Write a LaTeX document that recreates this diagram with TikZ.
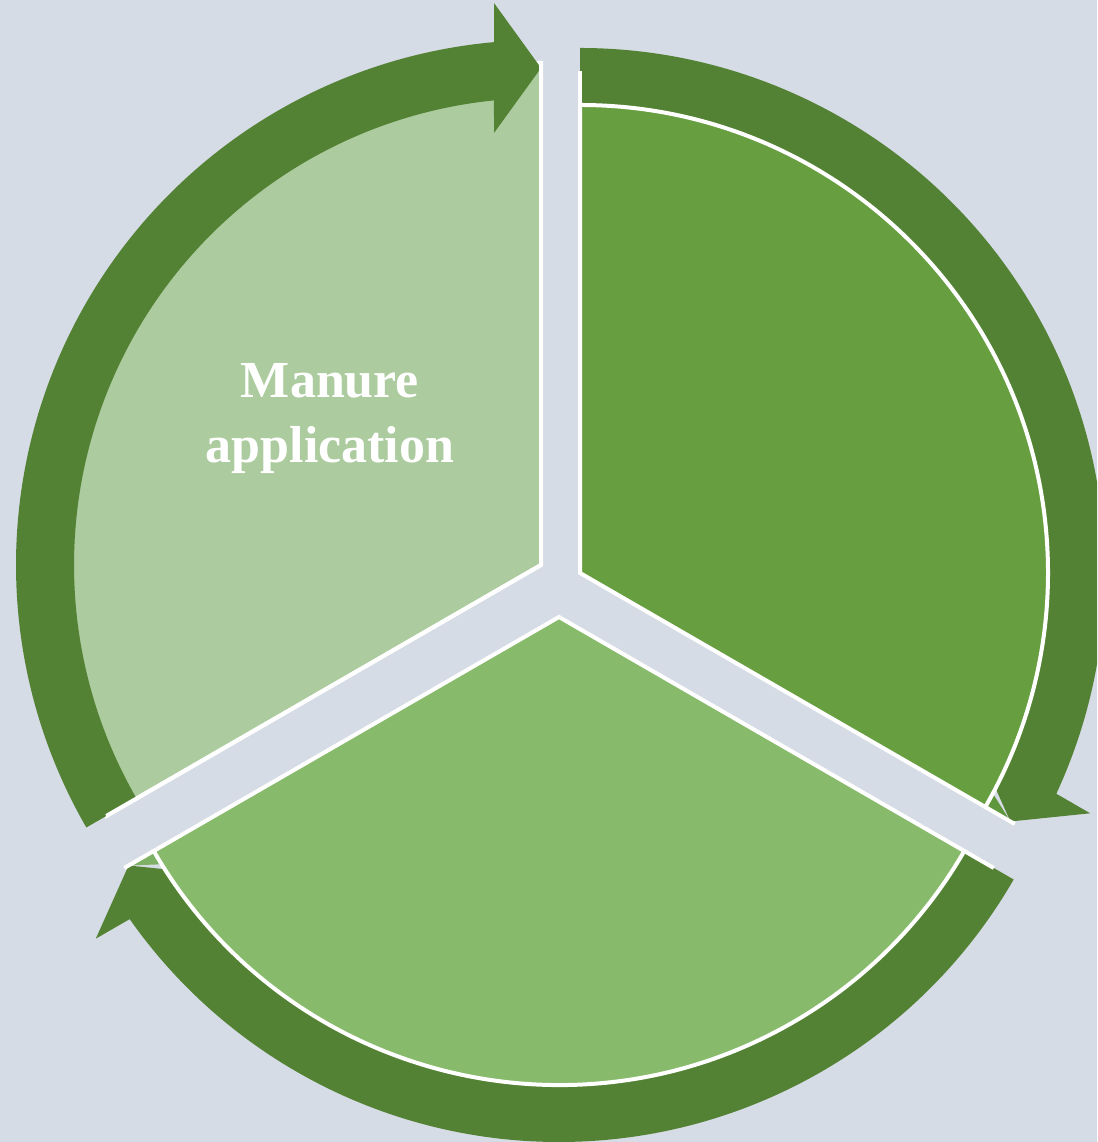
\documentclass[tikz,border=0pt]{standalone}
\usepackage{fontspec}
\setmainfont{Liberation Serif}
\definecolor{bgcol}{HTML}{D6DCE5}
\definecolor{segA}{HTML}{ACCB9E}
\definecolor{segB}{HTML}{679E40}
\definecolor{segC}{HTML}{88BA6C}
\definecolor{arrowgreen}{HTML}{548235}
\definecolor{blendB}{HTML}{5F983C}
\definecolor{blendC}{HTML}{7DB062}
\tikzset{
  segline/.style={draw=white, line width=4pt, line join=miter},
  extline/.style={draw=white, line width=4pt, line cap=butt},
  pics/cyclearrow/.style={code={
    \fill[arrowgreen] (210:525) arc[start angle=210,end angle=95.135,radius=525]
      -- (-47,562) -- (0,497) -- (-47,432) -- (95.78:467)
      arc[start angle=95.78,end angle=210,radius=467] -- cycle;
  }},
  pics/tipgap/.style={code={
    \fill[#1] (0,497) -- (0,468) -- (91.9:468) -- cycle;
  }}
}
\begin{document}
\begin{tikzpicture}[x=1pt,y=1pt]
\useasboundingbox (0,0) rectangle (1097,1142);
\clip (0,0) rectangle (1097,1142);
\fill[bgcol] (0,0) rectangle (1097,1142);

\coordinate (c1) at (541,577);
\coordinate (c2) at (580,569);
\coordinate (c3) at (559,525);

% segment 1 (its rim lies under its arrow) and its arrow on top
\begin{scope}[shift={(c1)}]
  \path[segline, fill=segA] (0,0) -- (90:502) arc[start angle=90,end angle=210,radius=502] -- cycle;
\end{scope}
\pic at (c1) {cyclearrow};

% arrows 2 and 3 beneath their segments
\pic[rotate=-120] at (c2) {cyclearrow};
\pic[rotate=120] at (c3) {cyclearrow};
\pic[rotate=-120] at (c2) {tipgap=blendB};
\pic[rotate=120] at (c3) {tipgap=blendC};

\begin{scope}[shift={(c2)}]
  \path[segline, fill=segB] (0,0) -- (90:468) arc[start angle=90,end angle=-30,radius=468] -- cycle;
\end{scope}
\begin{scope}[shift={(c3)}]
  \path[segline, fill=segC] (0,0) -- (210:468) arc[start angle=210,end angle=330,radius=468] -- cycle;
\end{scope}

% white radial edges
\begin{scope}[shift={(c1)}]
  \draw[extline] (0,0) -- (90:502);
  \draw[extline] (0,0) -- (210:502);
\end{scope}
\begin{scope}[shift={(c2)}]
  \draw[extline] (90:468) -- (90:502);
  \draw[extline] (-30:468) -- (-30:502);
\end{scope}
\begin{scope}[shift={(c3)}]
  \draw[extline] (210:468) -- (210:502);
  \draw[extline] (330:468) -- (330:502);
\end{scope}

\node[text=white, font=\fontsize{52}{65}\selectfont\bfseries, align=center, inner sep=0pt]
  (label) at (330,723.5) {Manure\\application};
\end{tikzpicture}
\end{document}
